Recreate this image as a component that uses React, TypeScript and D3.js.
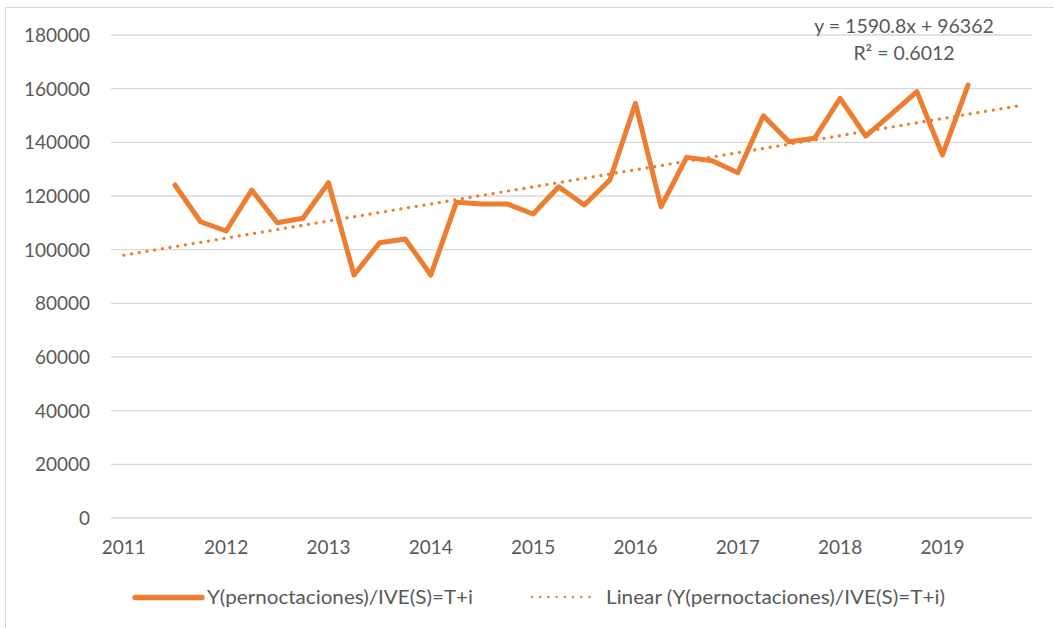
import React from "react";
import * as d3 from "d3";

const years = ["2011", "2012", "2013", "2014", "2015", "2016", "2017", "2018", "2019"];
const quarters = ["T1", "T2", "T3", "T4"];
const categories: string[] = years.flatMap((y) => quarters.map((q) => `${y}${q}`));

const values: (number | null)[] = [
  null, null, 124100, 110400, 106950, 122200, 110050, 111700,
  124950, 90550, 102600, 104000, 90550, 117650, 117000, 117000,
  113300, 123450, 116650, 125950, 154550, 116000, 134400, 133100,
  128700, 149900, 140250, 141500, 156400, 142350, 150550, 158900,
  135300, 161350, null, null,
];

const yTicks = [0, 20000, 40000, 60000, 80000, 100000, 120000, 140000, 160000, 180000];
const trendSlope = 1590.8;
const trendIntercept = 96362;
const seriesName = "Y(pernoctaciones)/IVE(S)=T+i";
const trendName = "Linear (Y(pernoctaciones)/IVE(S)=T+i)";
const equationLines = ["y = 1590.8x + 96362", "R² = 0.6012"];

const W = 1054;
const H = 628;
const COLOR = "#ED7D31";
const TEXT = "#595959";
const FONT = "Lato, 'Open Sans', sans-serif";

export default function App() {
  const x = d3.scaleBand<string>().domain(categories).range([111, 1032]).padding(0);
  const cx = (c: string) => (x(c) ?? 0) + x.bandwidth() / 2;
  const y = d3.scaleLinear().domain([0, 180000]).range([518, 35]);

  const pts = categories
    .map((c, i) => ({ c, v: values[i] }))
    .filter((d) => d.v !== null) as { c: string; v: number }[];

  const line = d3
    .line<{ c: string; v: number }>()
    .x((d) => cx(d.c))
    .y((d) => y(d.v));

  const trendPts = categories.map((c, i) => ({ c, v: trendSlope * (i + 1) + trendIntercept }));
  const trendEnds = [trendPts[0], trendPts[trendPts.length - 1]];

  const yearCats = categories.filter((_, i) => i % 4 === 0);

  return (
    <svg
      width={W}
      height={H}
      style={{ position: "absolute", left: 0, top: 0, background: "#fff" }}
      fontFamily={FONT}
    >
      <rect x={0} y={0} width={W} height={H} fill="#fff" />
      <rect x={5.5} y={7.5} width={W + 20} height={H + 20} fill="none" stroke="#D9D9D9" strokeWidth={1} />
      {yTicks.map((t) => (
        <g key={t}>
          <line x1={111} x2={1032} y1={y(t)} y2={y(t)} stroke="#D9D9D9" strokeWidth={1.3} />
          <text x={90} y={y(t)} dy="0.36em" textAnchor="end" fontSize={19} fill={TEXT}>
            {t}
          </text>
        </g>
      ))}
      {yearCats.map((c, i) => (
        <text key={c} x={cx(c)} y={554} textAnchor="middle" fontSize={19} fill={TEXT}>
          {years[i]}
        </text>
      ))}
      <path
        d={line(trendEnds) ?? ""}
        fill="none"
        stroke={COLOR}
        strokeWidth={3.2}
        strokeLinecap="round"
        strokeDasharray="0.1 7.7"
      />
      <path
        d={line(pts) ?? ""}
        fill="none"
        stroke={COLOR}
        strokeWidth={5}
        strokeLinejoin="round"
        strokeLinecap="round"
      />
      {equationLines.map((t, i) => (
        <text key={t} x={904} y={33 + i * 27} textAnchor="middle" fontSize={19.5} fill={TEXT}>
          {t}
        </text>
      ))}
      <g>
        <line x1={135} x2={202} y1={597.5} y2={597.5} stroke={COLOR} strokeWidth={5.3} strokeLinecap="round" />
        <text
          x={207}
          y={597}
          dy="0.36em"
          fontSize={18.5}
          fill={TEXT}
          textLength={266}
          lengthAdjust="spacingAndGlyphs"
        >
          {seriesName}
        </text>
        <line
          x1={532}
          x2={597}
          y1={597}
          y2={597}
          stroke={COLOR}
          strokeWidth={2.4}
          strokeLinecap="round"
          strokeDasharray="0.1 8.1"
        />
        <text
          x={606}
          y={597}
          dy="0.36em"
          fontSize={18.5}
          fill={TEXT}
          textLength={339}
          lengthAdjust="spacingAndGlyphs"
        >
          {trendName}
        </text>
      </g>
    </svg>
  );
}
